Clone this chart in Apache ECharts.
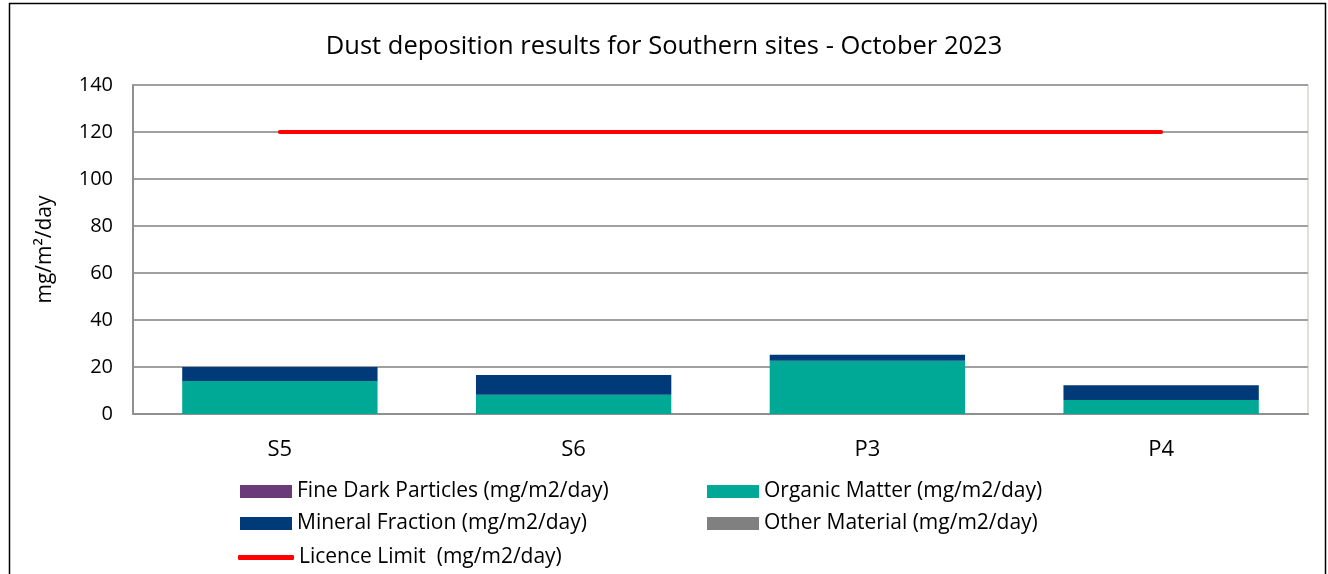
<!DOCTYPE html>
<html><head><meta charset="utf-8">
<script src="https://cdn.jsdelivr.net/npm/echarts@6/dist/echarts.min.js"></script>
<style>html,body{margin:0;padding:0;background:#fff}#c{width:1328px;height:574px;}</style>
</head><body><div id="c"></div>
<script>
const categories = ['S5', 'S6', 'P3', 'P4'];
const fineDark = [0, 0, 0, 0];
const organic = [14.0, 8.2, 22.7, 6.0];
const mineral = [6.0, 8.4, 2.5, 6.2];
const other = [0, 0, 0, 0];
const licence = [120, 120, 120, 120];
const yTicks = [0, 20, 40, 60, 80, 100, 120, 140];

const FONT = 'Open Sans';
const chart = echarts.init(document.getElementById('c'), null, {renderer: 'canvas'});
const legendText = {fontFamily: FONT, fontSize: 21, color: '#000'};
function leg(name, left, top, extra) {
  return Object.assign({data: [name], left: left, top: top, itemWidth: 52, itemHeight: 13, itemGap: 0,
    icon: 'rect', textStyle: legendText, padding: 0, selectedMode: false}, extra || {});
}
chart.setOption({
  animation: false,
  textStyle: {fontFamily: FONT},
  title: {text: 'Dust deposition results for Southern sites - October 2023', left: 'center', top: 29,
    textStyle: {fontFamily: FONT, fontSize: 25.5, fontWeight: 'normal', color: '#000'}},
  graphic: [{type: 'rect', shape: {x: 9.5, y: 3.5, width: 1316, height: 600}, style: {fill: 'none', stroke: '#000', lineWidth: 1.5}, silent: true}],
  grid: {left: 133, right: 20, top: 85, bottom: 160, show: true, borderColor: '#D8D8CC', borderWidth: 1.5, containLabel: false},
  legend: [
    leg('Fine Dark Particles (mg/m2/day)', 240, 481),
    leg('Organic Matter (mg/m2/day)', 707, 481),
    leg('Mineral Fraction (mg/m2/day)', 240, 513),
    leg('Other Material (mg/m2/day)', 707, 513),
    leg('Licence Limit  (mg/m2/day)', 238, 547, {icon: 'roundRect', itemHeight: 5, itemWidth: 56})
  ],
  xAxis: {type: 'category', data: categories,
    axisLine: {show: true, lineStyle: {color: '#909090', width: 2}}, axisTick: {show: false},
    axisLabel: {fontFamily: FONT, fontSize: 22, color: '#000', margin: 25}},
  yAxis: {type: 'value', min: 0, max: 140, interval: 20,
    name: 'mg/m²/day', nameLocation: 'middle', nameGap: 77, nameRotate: 90,
    nameTextStyle: {fontFamily: FONT, fontSize: 21, color: '#000'},
    axisLine: {show: true, lineStyle: {color: '#909090', width: 2}}, axisTick: {show: false},
    axisLabel: {fontFamily: FONT, fontSize: 20, color: '#000', margin: 20,
      formatter: v => yTicks.includes(v) ? String(v) : ''},
    splitLine: {show: true, lineStyle: {color: '#A0A0A0', width: 2}}},
  series: [
    {name: 'Fine Dark Particles (mg/m2/day)', type: 'bar', stack: 'd', data: fineDark, barWidth: '66.5%', itemStyle: {color: '#6B3A78'}},
    {name: 'Organic Matter (mg/m2/day)', type: 'bar', stack: 'd', data: organic, barWidth: '66.5%', itemStyle: {color: '#00A896'}},
    {name: 'Mineral Fraction (mg/m2/day)', type: 'bar', stack: 'd', data: mineral, barWidth: '66.5%', itemStyle: {color: '#003A78'}},
    {name: 'Other Material (mg/m2/day)', type: 'bar', stack: 'd', data: other, barWidth: '66.5%', itemStyle: {color: '#808080'}},
    {name: 'Licence Limit  (mg/m2/day)', type: 'line', data: licence, symbol: 'none', z: 5,
      lineStyle: {color: '#FF0000', width: 4, cap: 'round'}, itemStyle: {color: '#FF0000'}}
  ]
});
</script></body></html>
